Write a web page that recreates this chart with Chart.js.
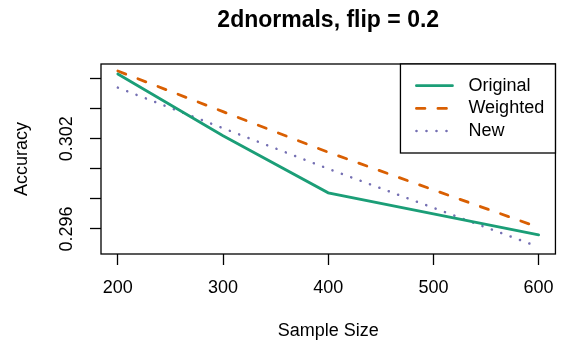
<!DOCTYPE html>
<html>
<head>
<meta charset="utf-8">
<script src="https://cdn.jsdelivr.net/npm/chart.js@4/dist/chart.umd.min.js"></script>
<style>
  html, body { margin: 0; padding: 0; background: #fff; }
</style>
</head>
<body>
<canvas id="chart" width="566" height="349"></canvas>
<script>
/* 2dnormals accuracy vs sample size, drawn in the style of an R base plot */

const chartTitle = '2dnormals, flip = 0.2';
const sampleSizes = [200, 300, 400, 500, 600];
const original = [0.3063, 0.3022, 0.2984, 0.2970, 0.2956];
const weighted = [0.3065, 0.3038, 0.3011, 0.2986, 0.2961];
const newer    = [0.3054, 0.3027, 0.3000, 0.2974, 0.2948];
const seriesNames = ['Original', 'Weighted', 'New'];

const xTicks = [200, 300, 400, 500, 600];
const yTicks = [0.296, 0.298, 0.300, 0.302, 0.304, 0.306];
const yTickLabels = ['0.296', '', '', '0.302', '', ''];

const FONT = '"Liberation Sans", Arial, Helvetica, sans-serif';

const pts = vals => vals.map((v, i) => ({ x: sampleSizes[i], y: v }));

// box, legend and title drawn on top, R-style
const rStyle = {
  id: 'rStyle',
  afterDraw(chart) {
    const { ctx, chartArea: a } = chart;
    ctx.save();
    ctx.strokeStyle = '#000';
    ctx.lineWidth = 1.3;
    ctx.strokeRect(a.left, a.top, a.right - a.left, a.bottom - a.top);

    // legend
    const lw = 155, lh = 89;
    const lx = a.right - lw, ly = a.top;
    ctx.fillStyle = '#fff';
    ctx.fillRect(lx, ly, lw, lh);
    ctx.strokeRect(lx, ly, lw, lh);
    chart.data.datasets.forEach((ds, i) => {
      const y = ly + 21.7 + i * 22.7;
      ctx.beginPath();
      ctx.strokeStyle = ds.borderColor;
      ctx.lineWidth = ds.borderWidth;
      ctx.lineCap = ds.borderCapStyle || 'butt';
      ctx.setLineDash(ds.borderDash || []);
      ctx.moveTo(lx + 16, y);
      ctx.lineTo(lx + 52, y);
      ctx.stroke();
      ctx.setLineDash([]);
      ctx.fillStyle = '#000';
      ctx.font = '18px ' + FONT;
      ctx.textAlign = 'left';
      ctx.textBaseline = 'middle';
      ctx.fillText(ds.label, lx + 68, y);
    });

    // title centred over the plot region
    ctx.fillStyle = '#000';
    ctx.font = 'bold 23px ' + FONT;
    ctx.textAlign = 'center';
    ctx.textBaseline = 'alphabetic';
    ctx.fillText(chartTitle, (a.left + a.right) / 2, 26.5);
    ctx.restore();
  }
};

new Chart(document.getElementById('chart'), {
  type: 'line',
  data: {
    datasets: [
      {
        label: seriesNames[0],
        data: pts(original),
        borderColor: '#1B9E77',
        borderWidth: 2.8,
        borderCapStyle: 'round'
      },
      {
        label: seriesNames[1],
        data: pts(weighted),
        borderColor: '#D95F02',
        borderWidth: 2.8,
        borderDash: [8.5, 13],
        borderCapStyle: 'round'
      },
      {
        label: seriesNames[2],
        data: pts(newer),
        borderColor: '#7570B3',
        borderWidth: 2.5,
        borderDash: [0.1, 9.9],
        borderCapStyle: 'round'
      }
    ]
  },
  options: {
    responsive: false,
    animation: false,
    layout: { padding: { top: 64, right: 10, bottom: 0, left: 0 } },
    elements: { point: { radius: 0 }, line: { tension: 0 } },
    plugins: { legend: { display: false }, title: { display: false }, tooltip: { enabled: false } },
    scales: {
      x: {
        type: 'linear',
        min: 184,
        max: 616,
        afterBuildTicks: s => { s.ticks = xTicks.map(v => ({ value: v })); },
        afterFit: s => { s.height = 95; },
        grid: { drawOnChartArea: false, tickLength: 11, color: '#000', tickColor: '#000', tickWidth: 1.3 },
        border: { display: false },
        ticks: { color: '#000', font: { family: FONT, size: 18 }, padding: 12, maxRotation: 0, autoSkip: false },
        title: { display: true, text: 'Sample Size', color: '#000', font: { family: FONT, size: 18 }, padding: { top: 0, bottom: 7 } }
      },
      y: {
        min: 0.29433,
        max: 0.30697,
        afterBuildTicks: s => { s.ticks = yTicks.map(v => ({ value: v })); },
        afterFit: s => { s.width = 101; },
        grid: { drawOnChartArea: false, tickLength: 11, color: '#000', tickColor: '#000', tickWidth: 1.3 },
        border: { display: false },
        ticks: {
          color: '#000',
          font: { family: FONT, size: 18 },
          padding: 0,
          minRotation: 90,
          maxRotation: 90,
          crossAlign: 'center',
          autoSkip: false,
          callback: (v, i) => yTickLabels[i]
        },
        title: { display: true, text: 'Accuracy', color: '#000', font: { family: FONT, size: 18 }, padding: { top: 11, bottom: 0 } }
      }
    }
  },
  plugins: [rStyle]
});
</script>
</body>
</html>
